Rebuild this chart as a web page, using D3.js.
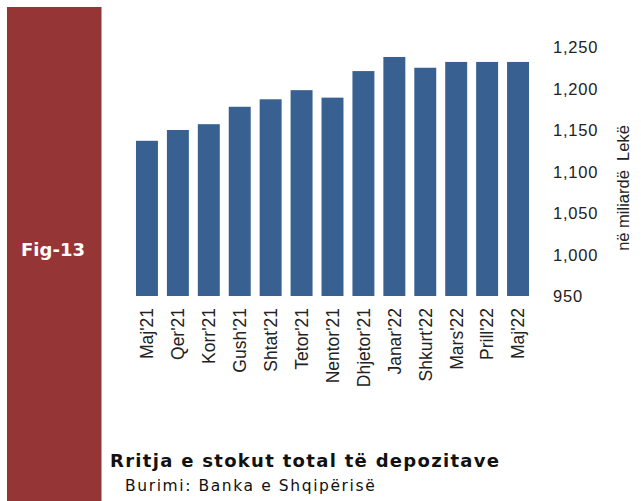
<!DOCTYPE html>
<html>
<head>
<meta charset="utf-8">
<script src="https://cdn.jsdelivr.net/npm/d3@7"></script>
<style>
  html, body { margin: 0; padding: 0; background: #fff; }
  svg { display: block; }
</style>
</head>
<body>
<svg id="chart" width="641" height="501"></svg>
<script>
const categories = ["Maj'21","Qer'21","Korr'21","Gush'21","Shtat'21","Tetor'21","Nentor'21","Dhjetor'21","Janar'22","Shkurt'22","Mars'22","Prill'22","Maj'22"];
const values = [1137, 1150, 1157, 1178, 1187, 1198, 1189, 1221, 1238, 1225, 1232, 1232, 1232];
const tickValues = [950, 1000, 1050, 1100, 1150, 1200, 1250];
const figLabel = "Fig-13";
const title = "Rritja e stokut total të depozitave";
const source = "Burimi: Banka e Shqipërisë";
const axisTitle = "në miliardë  Lekë";

const svg = d3.select("#chart");

// left red panel
svg.append("rect").attr("x", 7).attr("y", 7).attr("width", 94.5).attr("height", 494).attr("fill", "#963535");
svg.append("text").attr("x", 53).attr("y", 256).attr("text-anchor", "middle")
  .attr("font-family", "DejaVu Sans").attr("font-weight", "bold").attr("font-size", 18)
  .attr("fill", "#fff").text(figLabel);

const x = d3.scaleBand().domain(categories).range([131.5, 533.5]).paddingInner(0.29).paddingOuter(0.145);
const y = d3.scaleLinear().domain([950, 1250]).range([296, 47]);

svg.append("g").selectAll("rect").data(values).join("rect")
  .attr("x", (d, i) => x(categories[i]))
  .attr("width", x.bandwidth())
  .attr("y", d => y(d))
  .attr("height", d => y(950) - y(d))
  .attr("fill", "#386192");

// y axis on right
const yAxis = d3.axisRight(y).tickValues(tickValues).tickSize(0).tickPadding(0).tickFormat(d3.format(","));
const gy = svg.append("g").attr("transform", "translate(553,0)").call(yAxis);
gy.select(".domain").remove();
gy.selectAll("text").attr("font-family", "Liberation Sans").attr("font-size", 16.5)
  .attr("letter-spacing", 0.8).attr("fill", "#222").attr("x", 0).attr("dy", "0.35em");

// x axis labels
const xAxis = d3.axisBottom(x).tickSize(0).tickPadding(0);
const gx = svg.append("g").attr("transform", "translate(0,308)").call(xAxis);
gx.select(".domain").remove();
gx.selectAll("text").attr("font-family", "Liberation Sans").attr("font-size", 17.5)
  .attr("fill", "#222").attr("text-anchor", "end")
  .attr("transform", "rotate(-90)").attr("x", 0).attr("y", 0).attr("dy", "0.36em");

// axis title
svg.append("text").attr("transform", "translate(629,188) rotate(-90)").attr("text-anchor", "middle")
  .attr("font-family", "Liberation Sans").attr("font-size", 16.5).attr("fill", "#222")
  .style("white-space", "pre").text(axisTitle);

// title & source
svg.append("text").attr("x", 110).attr("y", 467).attr("font-family", "DejaVu Sans").attr("font-weight", "bold")
  .attr("font-size", 18).attr("letter-spacing", 1.3).attr("fill", "#111").text(title);
svg.append("text").attr("x", 125).attr("y", 491).attr("font-family", "DejaVu Sans")
  .attr("font-size", 15.5).attr("letter-spacing", 1.6).attr("fill", "#111").text(source);
</script>
</body>
</html>
